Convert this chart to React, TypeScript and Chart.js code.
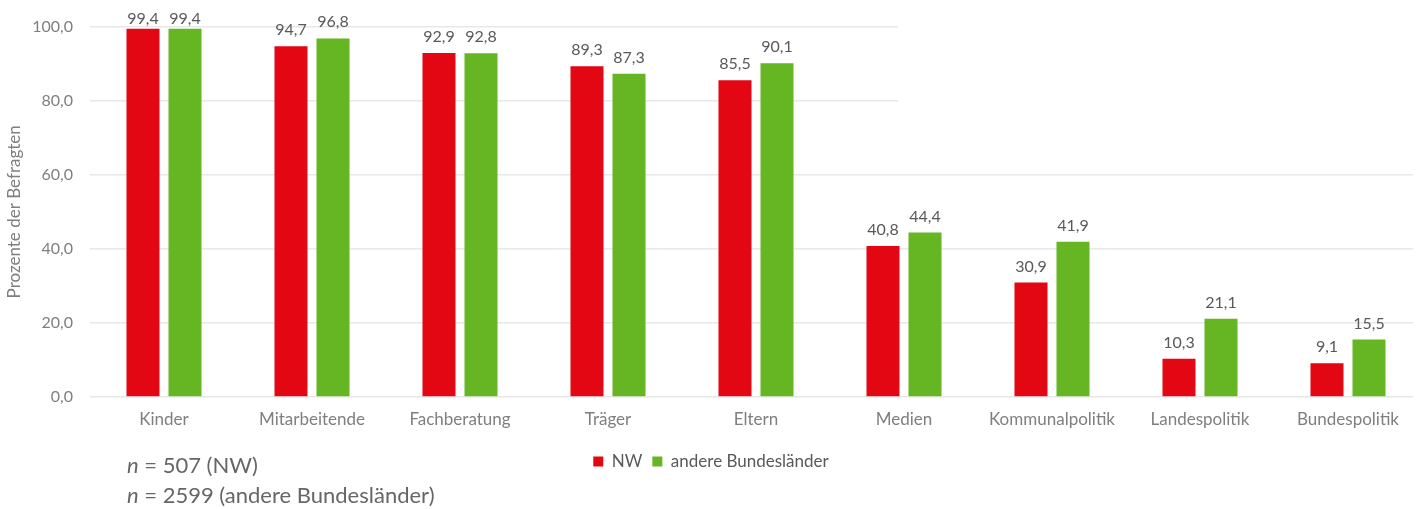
import React, { useEffect, useRef } from "react";
import { Chart, registerables } from "chart.js";

Chart.register(...registerables);

const categories = [
  "Kinder",
  "Mitarbeitende",
  "Fachberatung",
  "Träger",
  "Eltern",
  "Medien",
  "Kommunalpolitik",
  "Landespolitik",
  "Bundespolitik",
];
const nwValues = [99.4, 94.7, 92.9, 89.3, 85.5, 40.8, 30.9, 10.3, 9.1];
const otherValues = [99.4, 96.8, 92.8, 87.3, 90.1, 44.4, 41.9, 21.1, 15.5];
const seriesLabels = ["NW", "andere Bundesländer"];
const seriesColors = ["#E30613", "#65B622"];
const yAxisTitle = "Prozente der Befragten";
const yMin = 0;
const yMax = 100;
const yStep = 20;
const sampleNotes = [
  ["n", " = 507 (NW)"],
  ["n", " = 2599 (andere Bundesländer)"],
];

const FONT = "Lato, 'Open Sans', sans-serif";
const fmt = (v: number) => v.toFixed(1).replace(".", ",");

const maskPlugin = {
  id: "maskGrid",
  beforeDatasetsDraw(chart: any) {
    const { ctx, scales, chartArea } = chart;
    const x0 = scales.x.getPixelForValue(5) - 6;
    const y1 = scales.y.getPixelForValue(70);
    ctx.save();
    ctx.fillStyle = "#ffffff";
    ctx.fillRect(x0, 0, chart.width - x0, y1);
    ctx.fillRect(chartArea.right - 9, 0, 20, chartArea.bottom + 2);
    ctx.restore();
  },
};

const dataLabelPlugin = {
  id: "barValueLabels",
  afterDatasetsDraw(chart: any) {
    const { ctx } = chart;
    ctx.save();
    ctx.font = `16px ${FONT}`;
    ctx.fillStyle = "#595959";
    ctx.textAlign = "center";
    ctx.textBaseline = "alphabetic";
    chart.data.datasets.forEach((ds: any, i: number) => {
      const meta = chart.getDatasetMeta(i);
      meta.data.forEach((bar: any, j: number) => {
        const y = Math.max(bar.y - 11, 24);
        ctx.fillText(fmt(ds.data[j]), bar.x, y);
      });
    });
    ctx.restore();
  },
};

const notesPlugin = {
  id: "sampleNotes",
  afterDraw(chart: any) {
    const { ctx } = chart;
    ctx.save();
    ctx.fillStyle = "#666666";
    ctx.textBaseline = "middle";
    ctx.textAlign = "left";
    const x = 127;
    const ys = [466, 496];
    sampleNotes.forEach((parts, i) => {
      ctx.font = `italic 22px ${FONT}`;
      ctx.fillText(parts[0], x, ys[i]);
      const w = ctx.measureText(parts[0]).width;
      ctx.font = `22px ${FONT}`;
      ctx.fillText(parts[1], x + w, ys[i]);
    });
    ctx.restore();
  },
};

export default function App() {
  const canvasRef = useRef<HTMLCanvasElement>(null);

  useEffect(() => {
    document.body.style.margin = "0";
    const canvas = canvasRef.current;
    if (!canvas) return;
    const chart = new Chart(canvas, {
      type: "bar",
      data: {
        labels: categories,
        datasets: [
          {
            label: seriesLabels[0],
            data: nwValues,
            backgroundColor: seriesColors[0],
            categoryPercentage: 0.5676,
            barPercentage: 0.786,
          },
          {
            label: seriesLabels[1],
            data: otherValues,
            backgroundColor: seriesColors[1],
            categoryPercentage: 0.5676,
            barPercentage: 0.786,
          },
        ],
      },
      options: {
        responsive: false,
        animation: false,
        layout: { autoPadding: false, padding: { top: 23, right: 0, bottom: 29, left: 0 } },
        plugins: {
          tooltip: { enabled: false },
          legend: {
            position: "bottom",
            labels: {
              boxWidth: 10,
              boxHeight: 10,
              padding: 10,
              color: "#595959",
              font: { family: FONT, size: 17 },
            },
          },
        },
        scales: {
          x: {
            grid: { display: false, drawTicks: false },
            border: { display: false },
            ticks: {
              color: "#7f7f7f",
              font: { family: FONT, size: 17 },
              padding: 12,
              maxRotation: 0,
              autoSkip: false,
            },
            afterFit(scale: any) {
              scale.height = 46;
            },
          },
          y: {
            min: yMin,
            max: yMax,
            grid: { color: "#e8e8e8", lineWidth: 1.5, drawTicks: false },
            border: { display: false },
            ticks: {
              stepSize: yStep,
              color: "#7f7f7f",
              font: { family: FONT, size: 16 },
              padding: 17,
              callback: (v: any) => fmt(Number(v)),
            },
            title: {
              display: true,
              text: yAxisTitle,
              color: "#7f7f7f",
              font: { family: FONT, size: 17 },
              padding: { top: 4, bottom: 0 },
            },
            afterFit(scale: any) {
              scale.width = 90;
            },
          },
        },
      },
      plugins: [maskPlugin, dataLabelPlugin, notesPlugin],
    });
    return () => chart.destroy();
  }, []);

  return (
    <div style={{ position: "absolute", left: 0, top: 0, width: 1422, height: 509 }}>
      <canvas ref={canvasRef} width={1422} height={509} />
    </div>
  );
}
